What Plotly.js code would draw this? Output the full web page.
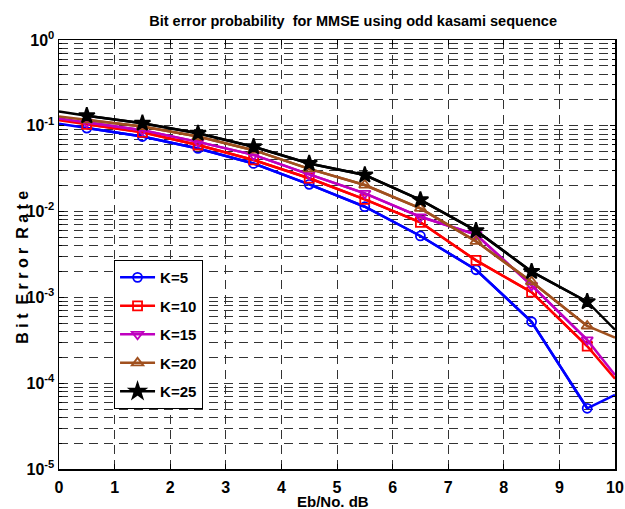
<!DOCTYPE html>
<html>
<head>
<meta charset="utf-8">
<script src="https://cdn.plot.ly/plotly-3.0.1.min.js"></script>
<style>html,body{margin:0;padding:0;background:#fff;}#chart{width:625px;height:509px;}</style>
</head>
<body>
<div id="chart"></div>
<script>
// Eb/No points (line runs 0..10, markers at the .5 points)
var ebno = [0, 0.5, 1.5, 2.5, 3.5, 4.5, 5.5, 6.5, 7.5, 8.5, 9.5, 10];
var seriesNames = ['K=5', 'K=10', 'K=15', 'K=20', 'K=25'];
var k5  = [0.106, 0.094, 0.075, 0.0545, 0.0364, 0.0208, 0.0114, 0.0052, 0.0021, 0.00052, 0.000051, 0.000073];
var k10 = [0.116, 0.104, 0.084, 0.0597, 0.040, 0.0245, 0.0139, 0.0075, 0.0027, 0.00115, 0.00027, 0.000113];
var k15 = [0.122, 0.110, 0.089, 0.065, 0.0458, 0.0272, 0.0163, 0.0087, 0.0054, 0.00138, 0.00032, 0.000125];
var k20 = [0.128, 0.117, 0.098, 0.075, 0.052, 0.0315, 0.0204, 0.0109, 0.0045, 0.00152, 0.000464, 0.00034];
var k25 = [0.147, 0.131, 0.107, 0.0817, 0.057, 0.0364, 0.0267, 0.0137, 0.0060, 0.0020, 0.00089, 0.00042];
var yTickVals = [1e-5, 1e-4, 1e-3, 1e-2, 1e-1, 1];
var yTickText = ['10<sup>-5</sup>', '10<sup>-4</sup>', '10<sup>-3</sup>', '10<sup>-2</sup>', '10<sup>-1</sup>', '10<sup>0</sup>'];
var xTickVals = [0, 1, 2, 3, 4, 5, 6, 7, 8, 9, 10];

var allSeries = [k5, k10, k15, k20, k25];
var colors = ['#0000ff', '#ff0000', '#bf00bf', '#a0501e', '#000000'];
var symbols = ['circle-open', 'square-open', 'triangle-down-open', 'triangle-up-open', 'star'];
var sizes = [9, 9, 10, 10, 12];

var FONT = 'Liberation Sans, Arial, sans-serif';
var traces = [];
allSeries.forEach(function (s, i) {
  traces.push({
    x: ebno, y: s, type: 'scatter', mode: 'lines',
    line: {color: colors[i], width: 2.5},
    showlegend: false, hoverinfo: 'skip', legendgroup: seriesNames[i]
  });
  traces.push({
    x: ebno.slice(1, 11), y: s.slice(1, 11), type: 'scatter', mode: 'lines+markers',
    name: seriesNames[i], legendgroup: seriesNames[i],
    line: {color: colors[i], width: 2.5},
    marker: {symbol: symbols[i], size: sizes[i], color: colors[i], line: {color: colors[i], width: 1.8}}
  });
});

var layout = {
  width: 625, height: 509,
  margin: {l: 59, r: 10, t: 40, b: 40},
  paper_bgcolor: '#fff', plot_bgcolor: '#fff',
  font: {family: FONT, size: 16, color: '#000', weight: 'bold'},
  title: {
    text: 'Bit error probability  for MMSE using odd kasami sequence',
    font: {family: FONT, size: 14.5, color: '#000', weight: 'bold'},
    x: 0.529, xref: 'paper', xanchor: 'center', y: 0.958, yanchor: 'middle'
  },
  xaxis: {
    range: [0, 10], tickmode: 'array', tickvals: xTickVals,
    ticks: 'inside', ticklen: 5, tickcolor: '#000', mirror: 'ticks',
    showline: true, linecolor: '#000', linewidth: 1.5,
    showgrid: true, gridcolor: '#333', gridwidth: 1, griddash: '9px,6px',
    zeroline: false, ticklabelstandoff: 3,
    tickfont: {family: FONT, size: 16, color: '#000', weight: 'bold'}
  },
  yaxis: {
    type: 'log', range: [-5, 0], tickmode: 'array', tickvals: yTickVals, ticktext: yTickText,
    ticks: 'inside', ticklen: 5, tickcolor: '#000', mirror: 'ticks',
    showline: true, linecolor: '#000', linewidth: 1.5,
    showgrid: true, gridcolor: '#333', gridwidth: 1, griddash: '9px,6px',
    zeroline: false,
    tickfont: {family: FONT, size: 16, color: '#000', weight: 'bold'},
    minor: {dtick: 'D1', ticks: 'inside', ticklen: 3, tickcolor: '#000',
            showgrid: true, gridcolor: '#333', gridwidth: 1, griddash: '9px,6px'}
  },
  legend: {
    x: 0.099, y: 0.487, xanchor: 'left', yanchor: 'top',
    bgcolor: '#fff', bordercolor: '#000', borderwidth: 1,
    font: {family: FONT, size: 15, color: '#000', weight: 'bold'},
    itemwidth: 35, tracegroupgap: 6
  },
  annotations: [
    {text: 'B i t  E r r o r  R a t e', textangle: -90, xref: 'paper', yref: 'paper',
     x: -0.066, y: 0.47, xanchor: 'center', yanchor: 'middle', showarrow: false,
     font: {family: FONT, size: 16, color: '#000', weight: 'bold'}},
    {text: 'Eb/No. dB', xref: 'paper', yref: 'paper',
     x: 0.493, y: -0.075, xanchor: 'center', yanchor: 'middle', showarrow: false,
     font: {family: FONT, size: 15, color: '#000', weight: 'bold'}}
  ]
};

Plotly.newPlot('chart', traces, layout, {displayModeBar: false, staticPlot: true});
</script>
</body>
</html>
